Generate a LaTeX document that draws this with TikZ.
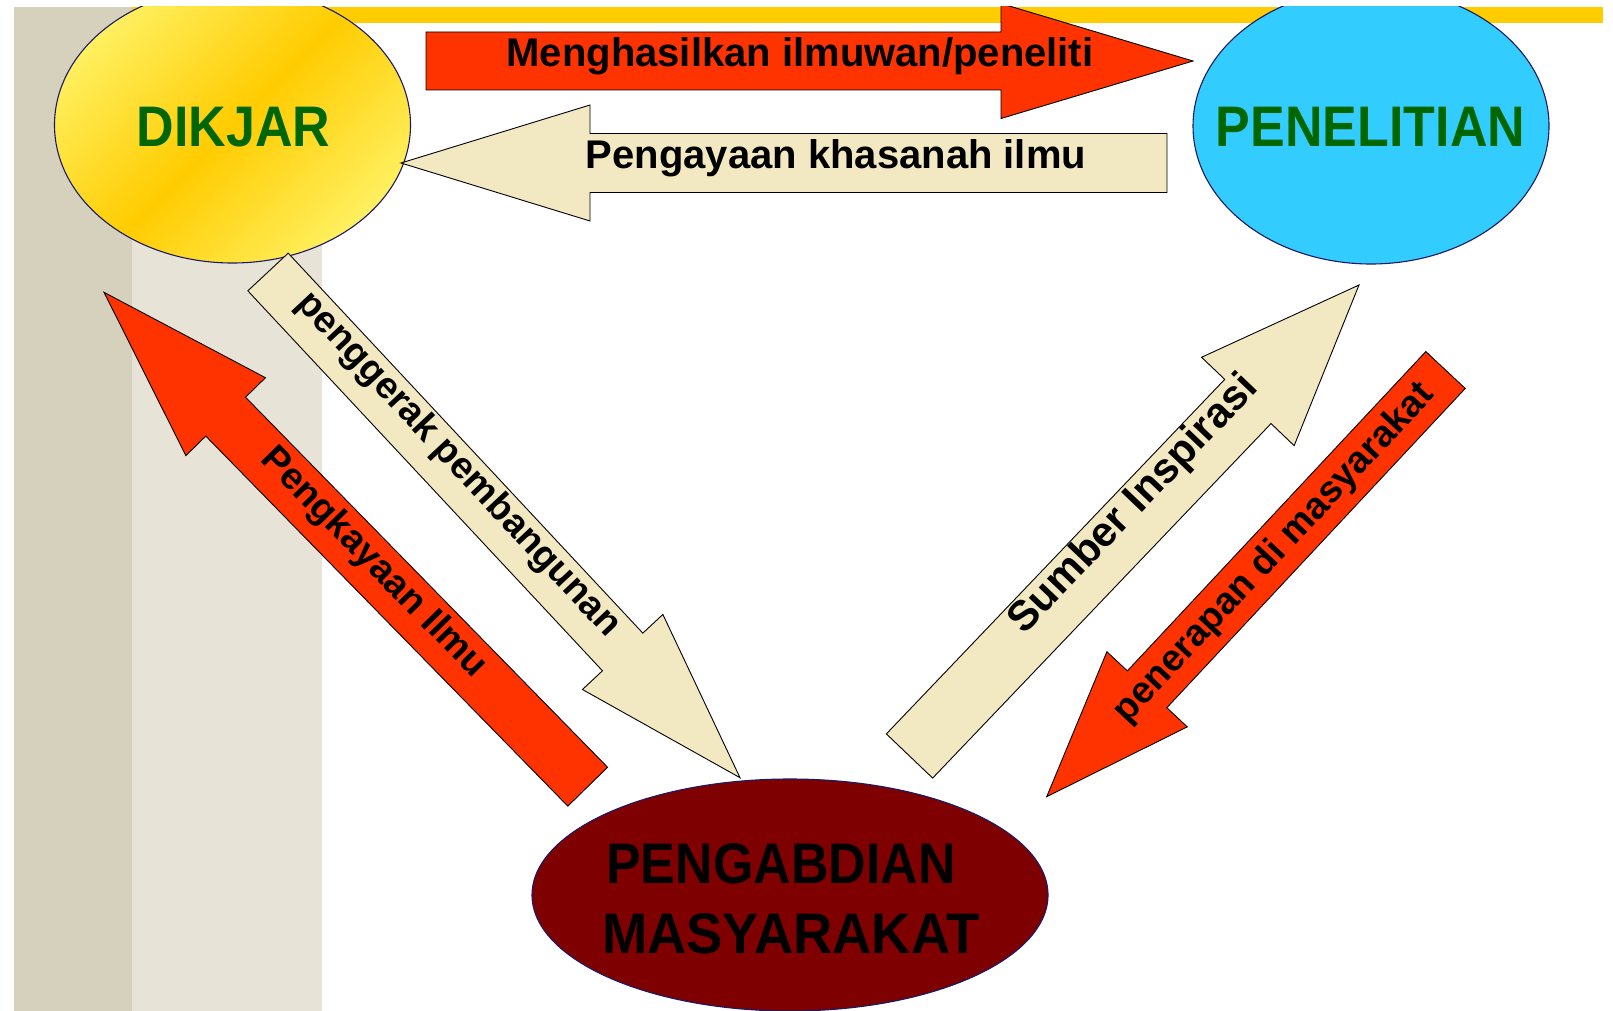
\documentclass[tikz,border=0pt]{standalone}
\usepackage{graphicx}
\usepackage{fontspec}
\setmainfont{Liberation Sans}
\usetikzlibrary{shapes.geometric,calc}
\definecolor{tanband}{HTML}{D6D1BD}
\definecolor{dotband}{HTML}{E7E3D7}
\definecolor{barY}{HTML}{FFCC00}
\definecolor{arrowred}{HTML}{FF3300}
\definecolor{cream}{HTML}{F2E9C2}
\definecolor{skyb}{HTML}{33CCFF}
\definecolor{maroonfill}{HTML}{7F0000}
\definecolor{dkgreen}{HTML}{006600}
\definecolor{navyline}{HTML}{1A1A66}
\definecolor{goldA}{HTML}{FFCC00}
\definecolor{goldB}{HTML}{FFF060}
\newcommand{\setfs}[1]{\fontsize{#1pt}{#1pt}\selectfont}
% block arrow: style, tail, tip, shaft half width, head length, head half width
\newcommand{\blockarrow}[6]{%
  \coordinate (ba-h) at ($(#3)!#5!(#2)$);
  \draw[#1] ($(#2)!#4!90:(#3)$) -- ($(ba-h)!#4!-90:(#2)$) -- ($(ba-h)!#6!-90:(#2)$) -- (#3)
    -- ($(ba-h)!#6!90:(#2)$) -- ($(ba-h)!#4!90:(#2)$) -- ($(#2)!#4!-90:(#3)$) -- cycle;
}
\tikzset{
  redarrow/.style={fill=arrowred, draw=black, line width=0.9pt},
  creamarrow/.style={fill=cream, draw=black, line width=0.9pt},
  oval/.style={ellipse, draw=navyline, line width=1.1pt, inner sep=0pt},
  lbl/.style={inner sep=0pt, text=black, font={\bfseries\setfs{#1}}},
  biglbl/.style={inner sep=0pt, font={\bfseries\setfs{52}}},
}
\begin{document}
\begin{tikzpicture}[x=1pt,y=-1pt]
\useasboundingbox (0,0) rectangle (1613,1011);
\fill[white] (0,0) rectangle (1613,1011);
\begin{scope}
\clip (0,7) rectangle (1613,1011);
% background bands
\fill[tanband] (14,7) rectangle (132,1011);
\fill[dotband] (132,7) rectangle (322,1011);
\fill[barY] (132,7) rectangle (1603,23);
% ovals
\node[oval, minimum width=356pt, minimum height=276pt,
      top color=goldB, bottom color=goldB, middle color=goldA, shading angle=45] (dikjar) at (232.5,125) {};
\node[oval, fill=skyb, minimum width=356pt, minimum height=276pt] (penelitian) at (1371,126) {};
\node[oval, fill=maroonfill, minimum width=516pt, minimum height=232pt] (pengabdian) at (790,895) {};
% oval texts
\node[biglbl, text=dkgreen] (dikjar-t) at (233.5,127) {\scalebox{1}[1.1]{DIKJAR}};
\node[biglbl, text=dkgreen] (penelitian-t) at (1370.5,127) {\scalebox{1}[1.1]{PENELITIAN}};
\node[biglbl, text=black, anchor=west] (pengabdian-t1) at (606,864) {\scalebox{1}[1.1]{PENGABDIAN}};
\node[biglbl, text=black, anchor=west] (pengabdian-t2) at (602,934) {\scalebox{1.045}[1.1]{MASYARAKAT}};
% arrow end points
\coordinate (m-tail) at (426,61);      \coordinate (m-tip) at (1193,61);
\coordinate (p-tail) at (1167,163);    \coordinate (p-tip) at (401,163);
\coordinate (g-tail) at (268,272);     \coordinate (g-tip) at (740,777.7);
\coordinate (k-tail) at (587.7,786.7); \coordinate (k-tip) at (104,292.3);
\coordinate (s-tail) at (909.5,756);   \coordinate (s-tip) at (1359,285);
\coordinate (r-tail) at (1445.5,370);  \coordinate (r-tip) at (1046.7,796.7);
% arrows
\blockarrow{redarrow}{m-tail}{m-tip}{29pt}{192pt}{57.5pt}
\blockarrow{creamarrow}{p-tail}{p-tip}{29.5pt}{189pt}{58pt}
\blockarrow{creamarrow}{g-tail}{g-tip}{27.6pt}{172pt}{55pt}
\blockarrow{redarrow}{k-tail}{k-tip}{27.8pt}{174pt}{55.7pt}
\blockarrow{creamarrow}{s-tail}{s-tip}{32pt}{161pt}{64pt}
\blockarrow{redarrow}{r-tail}{r-tip}{27pt}{147pt}{55pt}
% arrow labels
\node[lbl=40, anchor=base] (m-label) at (800,67) {Menghasilkan ilmuwan/peneliti};
\node[lbl=40, anchor=base] (p-label) at (836,169) {Pengayaan khasanah ilmu};
\node[lbl=37.5, rotate=-46.97] (g-label) at (458,465) {penggerak pembangunan};
\node[lbl=37.5, rotate=-45.63] (k-label) at (373.5,563) {Pengkayaan Ilmu};
\node[lbl=42, rotate=46.33] (s-label) at (1134,505) {Sumber Inspirasi};
\node[lbl=37.5, rotate=46.9] (r-label) at (1274.5,553.5) {penerapan di masyarakat};
\end{scope}
\end{tikzpicture}
\end{document}
